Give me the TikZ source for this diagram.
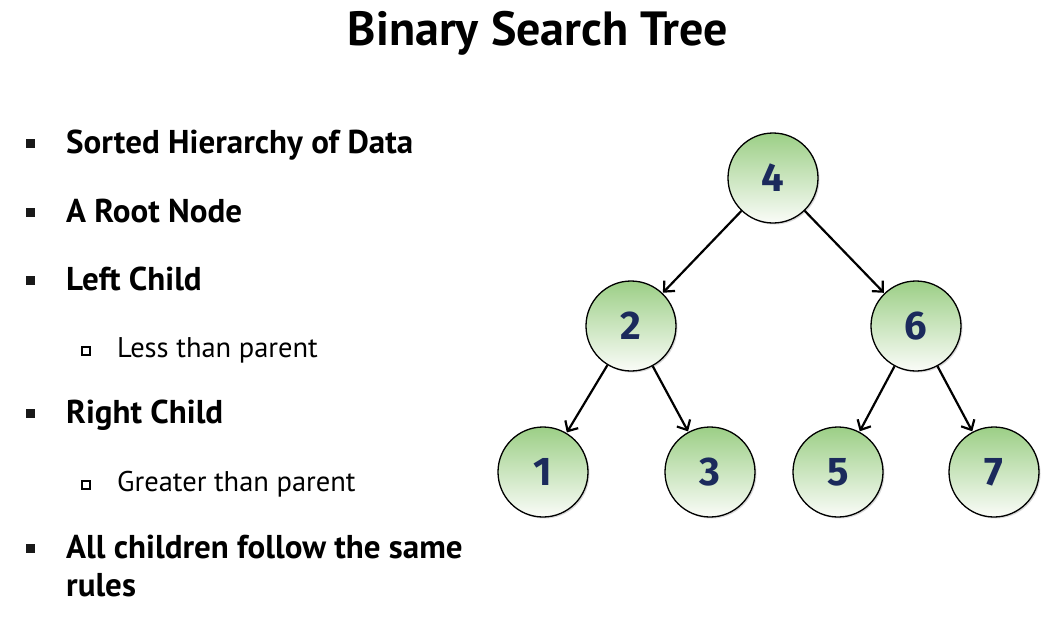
\documentclass[tikz,border=0pt]{standalone}
\usepackage{fontspec}
\setmainfont{PT Sans}
\newfontfamily\digitfont{Fira Sans}
\usetikzlibrary{arrows.meta,shadows}
\definecolor{nodegreen}{HTML}{9CCF86}
\definecolor{nodewhite}{HTML}{FAFCF8}
\definecolor{digitblue}{HTML}{1B2A5C}
\tikzset{
  treenode/.style={circle, draw=black, line width=1.3pt, minimum size=90pt, inner sep=0pt,
    top color=nodegreen, bottom color=nodewhite,
    drop shadow={shadow xshift=1.5pt, shadow yshift=-1.5pt, fill=black!30, opacity=0.5},
    font=\digitfont\bfseries\fontsize{40}{40}\selectfont, text=digitblue},
  link/.style={line width=2.2pt, -{Straight Barb[length=8pt,width=15pt,line width=2.2pt]}, shorten >=0.5pt},
  mainitem/.style={anchor=base west, font=\bfseries\fontsize{33}{38}\selectfont, align=left, inner sep=0pt},
  subitem/.style={anchor=base west, font=\fontsize{28.5}{32}\selectfont, inner sep=0pt},
  fullbullet/.style={fill=black!90, minimum size=9pt, inner sep=0pt},
  openbullet/.style={draw=black, line width=1.3pt, fill=white, minimum size=8pt, inner sep=0pt}
}
\begin{document}
\begin{tikzpicture}[x=1pt,y=-1pt]
\useasboundingbox (0,0) rectangle (1060,627);
\fill[white] (0,0) rectangle (1060,627);

% title
\node[font=\bfseries\fontsize{48}{52}\selectfont, anchor=base] (title) at (538,45) {Binary Search Tree};

% bullet list
\node[fullbullet] (b1) at (30,143) {};
\node[mainitem] (t1) at (66,153) {Sorted Hierarchy of Data};
\node[fullbullet] (b2) at (30,212) {};
\node[mainitem] (t2) at (66,222) {A Root Node};
\node[fullbullet] (b3) at (30,280) {};
\node[mainitem] (t3) at (66,290) {Left Child};
\node[openbullet] (s1) at (86,351) {};
\node[subitem] (u1) at (117,357) {Less than parent};
\node[fullbullet] (b4) at (30,413) {};
\node[mainitem] (t4) at (66,423) {Right Child};
\node[openbullet] (s2) at (86,485) {};
\node[subitem] (u2) at (117,491) {Greater than parent};
\node[fullbullet] (b5) at (30,548) {};
\node[mainitem] (t5) at (66,596) {All children follow the same\\rules};

% tree
\node[treenode] (n4) at (773,178) {4};
\node[treenode] (n2) at (631,326) {2};
\node[treenode] (n6) at (916,326) {6};
\node[treenode] (n1) at (543,472) {1};
\node[treenode] (n3) at (710,472) {3};
\node[treenode] (n5) at (838,472) {5};
\node[treenode] (n7) at (994,472) {7};

\draw[link] (n4) -- (n2);
\draw[link] (n4) -- (n6);
\draw[link] (n2) -- (n1);
\draw[link] (n2) -- (n3);
\draw[link] (n6) -- (n5);
\draw[link] (n6) -- (n7);
\end{tikzpicture}
\end{document}
